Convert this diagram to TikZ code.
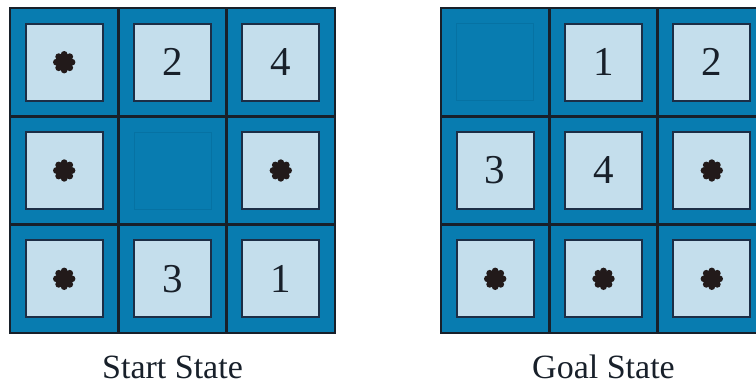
\documentclass[tikz,border=0pt]{standalone}
\usepackage{fontspec}
\setmainfont{Liberation Serif}
\usetikzlibrary{positioning}
\definecolor{PuzBlue}{RGB}{8,124,176}
\definecolor{PuzTile}{RGB}{196,222,236}
\definecolor{PuzLine}{RGB}{24,32,42}
\definecolor{PuzEdge}{RGB}{28,46,70}
\definecolor{PuzGhost}{RGB}{6,114,163}
\definecolor{PuzBlot}{RGB}{34,26,26}
\newcommand{\puzstar}{\tikz[x=1pt,y=1pt]{\fill[PuzBlot] (0,0) circle (7.5);
  \foreach \a in {0,45,...,315} \fill[PuzBlot] (\a:7.8) circle (3.4);}}

\begin{document}
\begin{tikzpicture}[x=1pt,y=-1pt]
  \tikzset{cell/.style={draw=PuzLine,line width=2.6pt,fill=PuzBlue,minimum size=108.3pt,inner sep=0pt,outer sep=0pt},
    tile/.style={draw=PuzEdge,line width=1.8pt,fill=PuzTile,minimum size=77pt,inner sep=0pt,text=PuzLine,font=\fontsize{41}{41}\selectfont},
    ghost/.style={draw=PuzGhost,line width=1pt,minimum size=77pt,inner sep=0pt},
    caption/.style={anchor=base,text=PuzLine,font=\fontsize{34}{36}\selectfont}}
  \useasboundingbox (0,0) rectangle (756,388);
  \clip (0,0) rectangle (756,388);
  % start state
  \node[cell] (sa) at (64.2,62.2) {};
  \node[cell,right=0pt of sa] (sb) {};
  \node[cell,right=0pt of sb] (sc) {};
  \node[cell,below=0pt of sa] (sd) {};
  \node[cell,right=0pt of sd] (se) {};
  \node[cell,right=0pt of se] (sf) {};
  \node[cell,below=0pt of sd] (sg) {};
  \node[cell,right=0pt of sg] (sh) {};
  \node[cell,right=0pt of sh] (si) {};
  \node[tile] (ta) at (sa) {\puzstar};
  \node[tile] (tb) at (sb) {2};
  \node[tile] (tc) at (sc) {4};
  \node[tile] (td) at (sd) {\puzstar};
  \node[ghost] (te) at (se) {};
  \node[tile] (tf) at (sf) {\puzstar};
  \node[tile] (tg) at (sg) {\puzstar};
  \node[tile] (th) at (sh) {3};
  \node[tile] (ti) at (si) {1};
  \node[caption] (startlbl) at (172.5,378) {Start State};
  % goal state
  \node[cell] (ga) at (495.2,62.2) {};
  \node[cell,right=0pt of ga] (gb) {};
  \node[cell,right=0pt of gb] (gc) {};
  \node[cell,below=0pt of ga] (gd) {};
  \node[cell,right=0pt of gd] (ge) {};
  \node[cell,right=0pt of ge] (gf) {};
  \node[cell,below=0pt of gd] (gg) {};
  \node[cell,right=0pt of gg] (gh) {};
  \node[cell,right=0pt of gh] (gi) {};
  \node[ghost] (ua) at (ga) {};
  \node[tile] (ub) at (gb) {1};
  \node[tile] (uc) at (gc) {2};
  \node[tile] (ud) at (gd) {3};
  \node[tile] (ue) at (ge) {4};
  \node[tile] (uf) at (gf) {\puzstar};
  \node[tile] (ug) at (gg) {\puzstar};
  \node[tile] (uh) at (gh) {\puzstar};
  \node[tile] (ui) at (gi) {\puzstar};
  \node[caption] (goallbl) at (603.5,378) {Goal State};
\end{tikzpicture}
\end{document}
